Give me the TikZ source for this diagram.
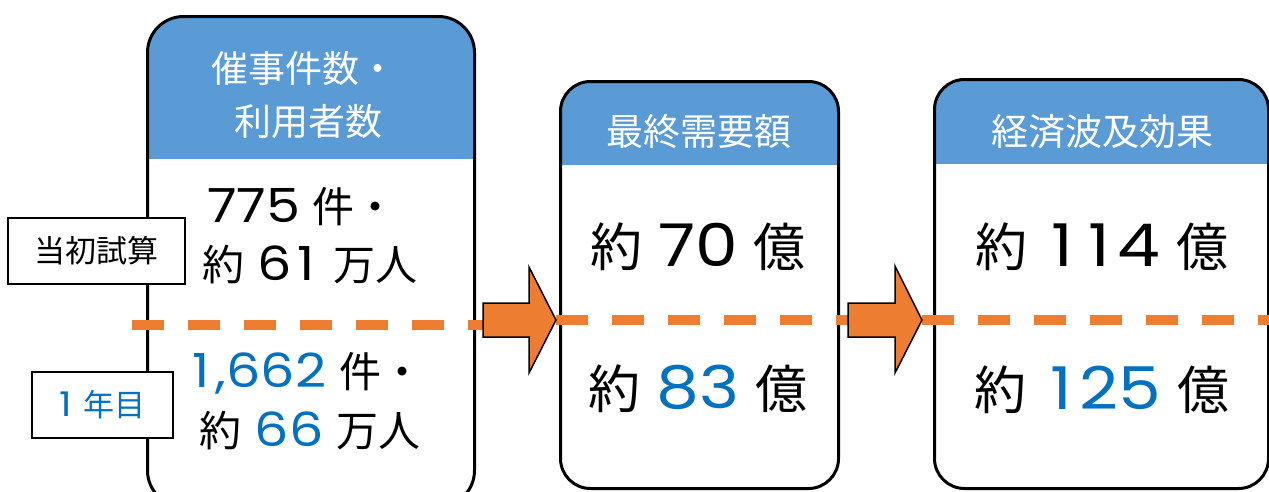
\documentclass[tikz,border=0pt]{standalone}
\usepackage{fontspec}
\setmainfont{Noto Sans CJK JP}
\newfontfamily\digitfont{Poppins}[FakeStretch=1.15]
\definecolor{hdr}{HTML}{5B9BD5}
\definecolor{orng}{HTML}{ED7D31}
\definecolor{bnum}{HTML}{0070C0}
\newcommand{\na}[1]{{\digitfont\fontsize{47}{47}\selectfont #1}}
\newcommand{\nb}[1]{{\digitfont\fontsize{59}{59}\selectfont #1}}
\newcommand{\oneA}{\makebox[29pt][c]{1}}
\newcommand{\oneB}{\makebox[37pt][c]{1}}
\newcommand{\gapA}{\hspace{13pt}}
\newcommand{\gapB}{\hspace{16pt}}
\begin{document}
\begin{tikzpicture}[x=1pt,y=-1pt,
  card/.style={draw=black, line width=3pt, fill=white, inner sep=0pt, anchor=north west},
  hdrfill/.style={path picture={\fill[hdr, sharp corners] (path picture bounding box.north west) rectangle ([yshift=-#1]path picture bounding box.north east);}},
  hdrtext/.style={text=white, inner sep=0pt, font=\fontsize{37}{37}\selectfont},
  bodyA/.style={inner sep=0pt, font=\fontsize{42}{42}\selectfont},
  bodyB/.style={inner sep=0pt, font=\fontsize{52}{52}\selectfont},
  lab/.style={draw=black, line width=1.3pt, fill=white, inner sep=0pt, font=\fontsize{31}{31}\selectfont},
  dashline/.style={draw=orng, line width=10pt, dash pattern=on 32pt off 24pt},
  arrowst/.style={fill=orng, draw=black, line width=1.5pt, line join=miter}
]
\useasboundingbox (0,0) rectangle (1269,491);
\clip (0,0) rectangle (1269,491);
% cards
\node[card, rounded corners=36pt, minimum width=327pt, minimum height=490pt, hdrfill=142pt] (b1) at (146,15) {};
\node[card, rounded corners=30pt, minimum width=278pt, minimum height=407pt, hdrfill=83pt] (b2) at (559,80) {};
\node[card, rounded corners=30pt, minimum width=334pt, minimum height=409pt, hdrfill=84pt] (b3) at (933,78) {};
% header texts
\node[hdrtext] (h1a) at (304,68) {催事件数・};
\node[hdrtext] (h1b) at (308,122) {利用者数};
\node[hdrtext] (h2) at (699,132) {最終需要額};
\node[hdrtext] (h3) at (1102,132) {経済波及効果};
% body texts
\node[bodyA] (t1a) at (302,207) {\na{775}\gapA 件・};
\node[bodyA] (t1b) at (310,265) {約\gapA\na{6\oneA}\gapA 万人};
\node[bodyA] (t1c) at (305,373) {{\color{bnum}\na{\oneA,662}}\gapA 件・};
\node[bodyA] (t1d) at (310,431) {約\gapA{\color{bnum}\na{66}}\gapA 万人};
\node[bodyB] (t2a) at (698,247) {約\gapB\nb{70}\gapB 億};
\node[bodyB] (t2b) at (698,389) {約\gapB{\color{bnum}\nb{83}}\gapB 億};
\node[bodyB] (t3a) at (1102,247) {約\gapB\nb{\oneB\oneB 4}\gapB 億};
\node[bodyB] (t3b) at (1102,390) {約\gapB{\color{bnum}\nb{\oneB 25}}\gapB 億};
% dashed dividers
\coordinate (d1s) at (132,325);
\coordinate (d1e) at (500,325);
\coordinate (d2s) at (556,320);
\coordinate (d2e) at (868,320);
\coordinate (d3s) at (922,320);
\coordinate (d3e) at (1275,320);
\draw[dashline] (d1s) -- (d1e);
\draw[dashline] (d2s) -- (d2e);
\draw[dashline] (d3s) -- (d3e);
% arrows
\coordinate (a1s) at (483,320);
\coordinate (a2s) at (848,320);
\draw[arrowst, shift={(a1s)}] (0,-17) -- (46,-17) -- (46,-53) -- (73,0) -- (46,53) -- (46,17) -- (0,17) -- cycle;
\draw[arrowst, shift={(a2s)}] (0,-17) -- (47,-17) -- (47,-54) -- (74,0) -- (47,53) -- (47,17) -- (0,17) -- cycle;
% side labels
\node[lab, minimum width=177pt, minimum height=66pt] (l1) at (96.5,251) {当初試算};
\node[lab, minimum width=141pt, minimum height=66pt, text=bnum] (l2) at (102.5,405) {{\digitfont\fontsize{34}{34}\selectfont 1}\hspace{12pt}年目};
\end{tikzpicture}
\end{document}
